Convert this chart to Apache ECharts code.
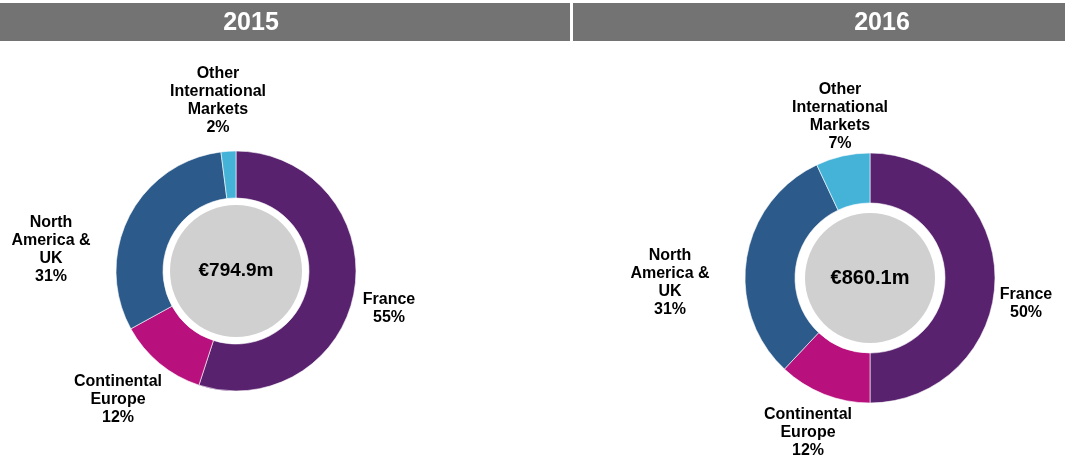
<!DOCTYPE html>
<html>
<head>
<meta charset="utf-8">
<script src="https://cdn.jsdelivr.net/npm/echarts@6/dist/echarts.min.js"></script>
<style>
  html,body{margin:0;padding:0;background:#fff}
  #chart{width:1065px;height:472px}
</style>
</head>
<body>
<div id="chart"></div>
<script>
// ── data ──
const years      = ['2015', '2016'];
const categories = ['France', 'Continental Europe', 'North America & UK', 'Other International Markets'];
const catLabels  = ['France', 'Continental\nEurope', 'North\nAmerica &\nUK', 'Other\nInternational\nMarkets'];
const share2015  = [55, 12, 31, 2];
const share2016  = [50, 12, 31, 7];
const totals     = ['€794.9m', '€860.1m'];

// ── style / layout ──
const COLORS = ['#59226F', '#B8117E', '#2C5B8B', '#45B3D8'];
const FONT = '"Liberation Sans", Arial, sans-serif';
const HEAD = '#737373';
const PIES = [
  { center: [236, 271], hole: 73, outer: 120, disc: 66, fs: 19 },
  { center: [870, 278], hole: 75, outer: 125, disc: 65, fs: 20 }
];
// label block centres (outside-end placement as in the original)
const LABEL_POS = [
  [[389, 309], [118, 400], [51, 250], [218, 101]],
  [[1026, 304], [808, 433], [670, 283], [840, 117]]
];

const chart = echarts.init(document.getElementById('chart'), null, { renderer: 'canvas' });

const series = [];
[share2015, share2016].forEach((vals, i) => {
  const P = PIES[i];
  series.push({
    type: 'pie',
    center: P.center,
    radius: [P.hole, P.outer],
    startAngle: 90,
    clockwise: true,
    silent: true,
    animation: false,
    itemStyle: { borderColor: '#fff', borderWidth: 0.6 },
    label: {
      show: true,
      position: 'outside',
      overflow: 'none',
      formatter: p => catLabels[p.dataIndex] + '\n' + p.value + '%',
      fontFamily: FONT, fontSize: 16, fontWeight: 'bold',
      lineHeight: 18, color: '#000'
    },
    labelLine: { show: false },
    labelLayout: p => ({
      x: LABEL_POS[i][p.dataIndex][0],
      y: LABEL_POS[i][p.dataIndex][1],
      align: 'center', verticalAlign: 'middle'
    }),
    data: categories.map((c, k) => ({ name: c, value: vals[k], itemStyle: { color: COLORS[k] } }))
  });
  series.push({
    type: 'pie',
    center: P.center,
    radius: [0, P.disc],
    silent: true,
    animation: false,
    label: {
      show: true, position: 'center',
      formatter: totals[i],
      fontFamily: FONT, fontSize: P.fs, fontWeight: 'bold', color: '#000'
    },
    labelLine: { show: false },
    itemStyle: { color: '#D0D0D0' },
    data: [{ name: years[i], value: 1 }]
  });
});

chart.setOption({
  backgroundColor: '#fff',
  animation: false,
  graphic: [
    { type: 'rect', shape: { x: 0, y: 3, width: 570, height: 38 }, style: { fill: HEAD }, silent: true },
    { type: 'rect', shape: { x: 573, y: 3, width: 492, height: 38 }, style: { fill: HEAD }, silent: true },
    { type: 'text', x: 251, y: 23, style: { text: years[0], fill: '#fff', font: 'bold 25px ' + FONT, textAlign: 'center', textVerticalAlign: 'middle' }, silent: true },
    { type: 'text', x: 882, y: 23, style: { text: years[1], fill: '#fff', font: 'bold 25px ' + FONT, textAlign: 'center', textVerticalAlign: 'middle' }, silent: true }
  ],
  series: series
});
</script>
</body>
</html>
